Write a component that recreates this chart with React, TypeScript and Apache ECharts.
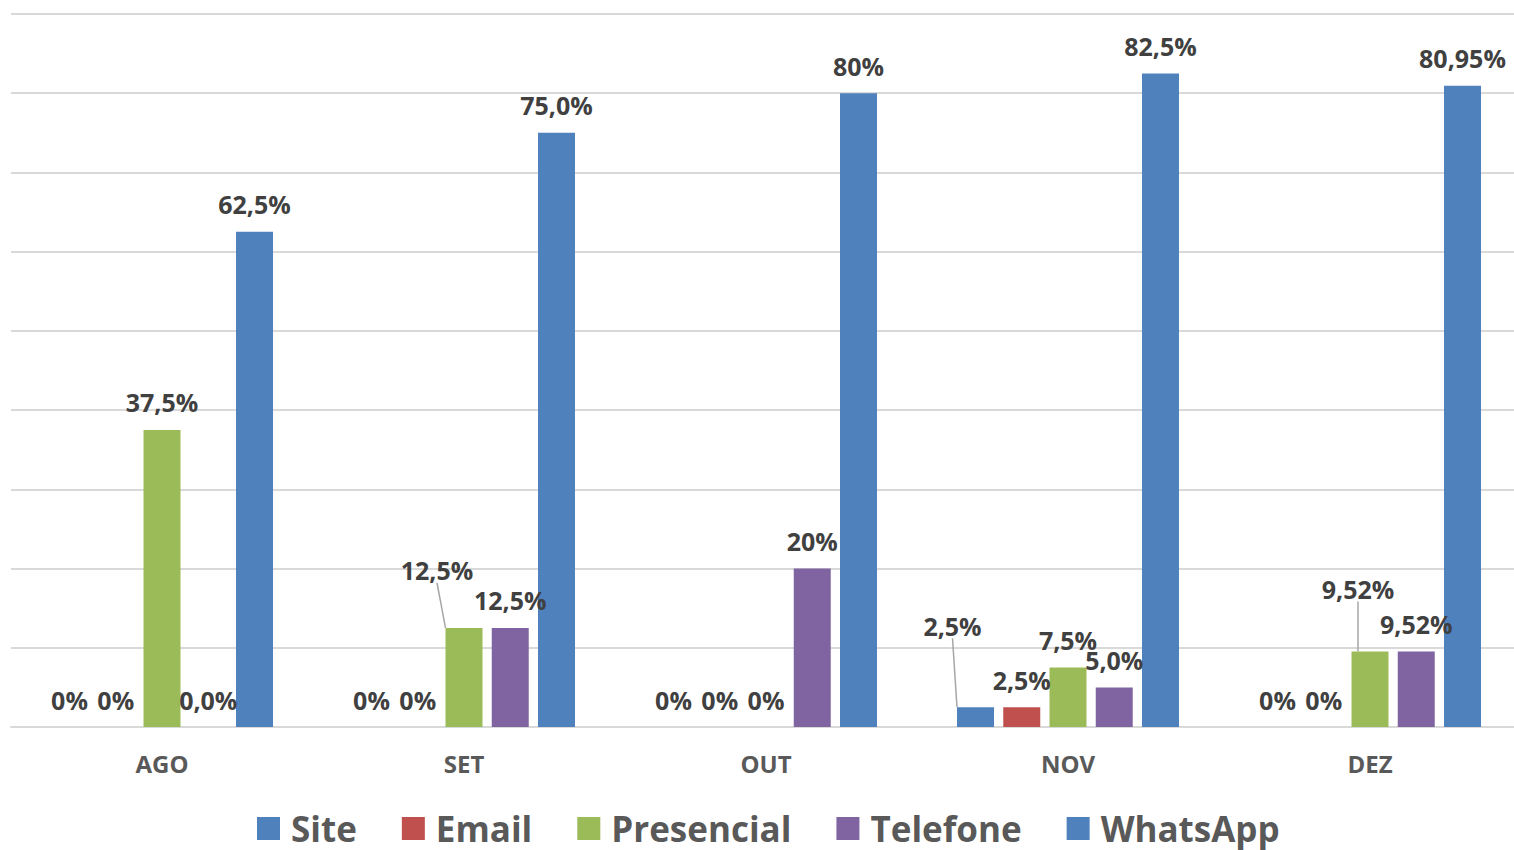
import React, { useEffect, useRef } from "react";
import * as echarts from "echarts";

const categories = ["AGO", "SET", "OUT", "NOV", "DEZ"];
const seriesNames = ["Site", "Email", "Presencial", "Telefone", "WhatsApp"];

const siteValues = [0, 0, 0, 2.5, 0];
const emailValues = [0, 0, 0, 2.5, 0];
const presencialValues = [37.5, 12.5, 0, 7.5, 9.52];
const telefoneValues = [0, 12.5, 20, 5.0, 9.52];
const whatsappValues = [62.5, 75.0, 80, 82.5, 80.95];

const siteLabels = ["0%", "0%", "0%", "2,5%", "0%"];
const emailLabels = ["0%", "0%", "0%", "2,5%", "0%"];
const presencialLabels = ["37,5%", "12,5%", "0%", "7,5%", "9,52%"];
const telefoneLabels = ["0,0%", "12,5%", "20%", "5,0%", "9,52%"];
const whatsappLabels = ["62,5%", "75,0%", "80%", "82,5%", "80,95%"];

const colors = ["#4F81BD", "#C0504D", "#9BBB59", "#8064A2", "#4F81BD"];

// label displacement (series index, data index) -> [dx, dy]
const movedLabels: Record<string, [number, number]> = {
  "2-1": [-27, -30],
  "0-3": [-23, -54],
  "2-4": [-12, -35],
};

export default function App() {
  const ref = useRef<HTMLDivElement>(null);
  useEffect(() => {
    if (!ref.current) return;
    const chart = echarts.init(ref.current, null, { renderer: "svg" });
    const allValues = [siteValues, emailValues, presencialValues, telefoneValues, whatsappValues];
    const allLabels = [siteLabels, emailLabels, presencialLabels, telefoneLabels, whatsappLabels];
    const font = "'Open Sans', sans-serif";
    const series = seriesNames.map((name, si) => ({
      name,
      type: "bar",
      barWidth: 37,
      barGap: "25%",
      itemStyle: { color: colors[si] },
      label: {
        show: true,
        position: "top",
        distance: 15,
        fontFamily: font,
        fontWeight: "bold",
        fontSize: 25,
        color: "#404040",
        formatter: (p: any) => allLabels[si][p.dataIndex],
      },
      labelLine: { show: false, lineStyle: { color: "#A6A6A6", width: 1.5 } },
      labelLayout: (p: any) => {
        const m = movedLabels[`${si}-${p.dataIndex}`];
        return m ? { dx: m[0], dy: m[1] } : {};
      },
      data: allValues[si].map((v, di) =>
        movedLabels[`${si}-${di}`]
          ? { value: v, labelLine: { show: true, lineStyle: { color: "#A6A6A6", width: 1.5 } } }
          : v
      ),
    }));
    chart.setOption({
      animation: false,
      color: colors,
      grid: { left: 11, top: 14, width: 1510, bottom: 123 },
      legend: {
        data: seriesNames,
        left: 257,
        top: 811,
        padding: 0,
        itemWidth: 23,
        itemHeight: 23,
        itemGap: 45,
        icon: "rect",
        textStyle: {
          fontFamily: font,
          fontWeight: "bold",
          fontSize: 35,
          color: "#595959",
          padding: [0, 0, 0, 6],
        },
      },
      xAxis: {
        type: "category",
        data: categories,
        axisLine: { show: true, lineStyle: { color: "#D9D9D9", width: 2 } },
        axisTick: { show: false },
        axisLabel: {
          margin: 24,
          fontFamily: font,
          fontWeight: "bold",
          fontSize: 24,
          color: "#595959",
        },
      },
      yAxis: {
        type: "value",
        min: 0,
        max: 90,
        interval: 10,
        axisLabel: { show: false },
        axisLine: { show: false },
        axisTick: { show: false },
        splitLine: { lineStyle: { color: "#D9D9D9", width: 2 } },
      },
      series,
    });
    return () => chart.dispose();
  }, []);
  return (
    <div
      style={{ position: "absolute", left: 0, top: 0, width: 1514, height: 850, overflow: "hidden", background: "#fff" }}
    >
      <div ref={ref} style={{ position: "absolute", left: 0, top: 0, width: 1530, height: 850 }} />
    </div>
  );
}
